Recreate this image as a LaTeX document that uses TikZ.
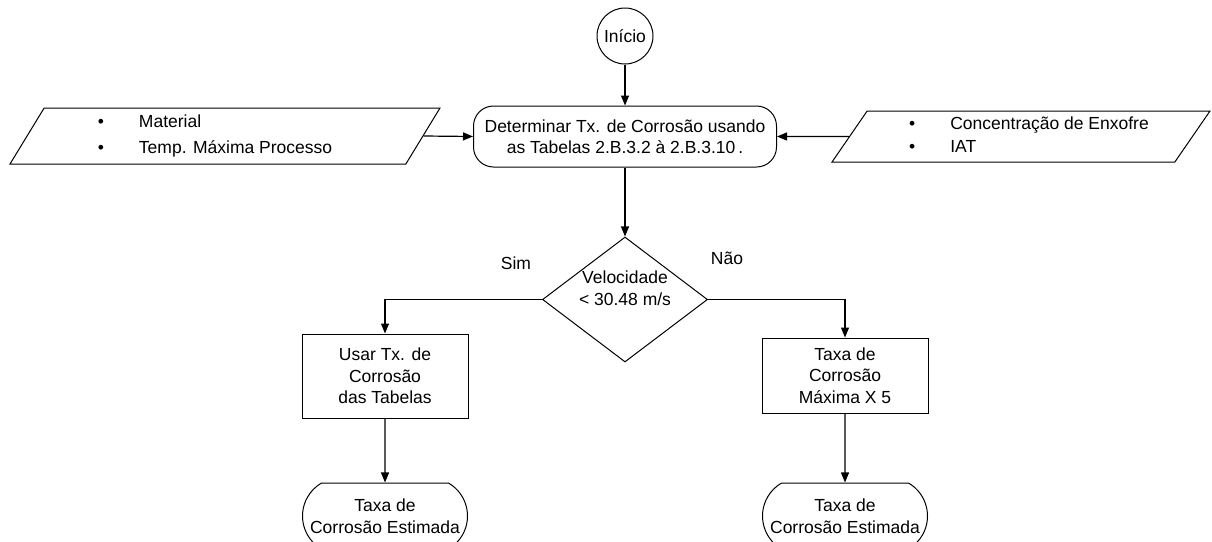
\documentclass[tikz,border=0pt]{standalone}
\usepackage{fontspec}
\setmainfont{Liberation Sans}
\usepackage{tikz}
\usetikzlibrary{arrows.meta, shapes.geometric, shapes.misc}

\begin{document}
\begin{tikzpicture}[x=1pt, y=-1pt, >={Triangle[length=10pt, width=8pt]},
    font=\fontsize{17.5}{21.5}\selectfont,
    inicio/.style={draw, line width=1pt, circle, minimum size=56pt, inner sep=0pt},
    processo/.style={draw, line width=1pt, rectangle, rounded corners=20pt, minimum width=303pt, minimum height=61pt, align=center, inner sep=0pt},
    entrada/.style={draw, line width=1pt, trapezium, trapezium left angle=54, trapezium right angle=126, trapezium stretches body, inner sep=0pt},
    decisao/.style={draw, line width=1pt, diamond, minimum width=165pt, minimum height=125pt, inner sep=0pt},
    caixa/.style={draw, line width=1pt, rectangle, minimum width=166pt, align=center, inner sep=0pt},
    fim/.style={draw, line width=1pt, rounded rectangle, rounded rectangle arc length=120, minimum width=165pt, minimum height=66pt, align=center, inner sep=0pt},
    seta/.style={->, line width=1.2pt}]
    \useasboundingbox (0,0) rectangle (1212,541);
    \clip (0,0) rectangle (1212,541);

    \node[inicio] (ini) at (625,36) {Início};
    \node[processo] (proc) at (625,136.5) {Determinar Tx. de Corrosão usando\\as Tabelas 2.B.3.2 à 2.B.3.10\,.};
    \node[entrada, minimum width=430pt, minimum height=56pt] (matL) at (225,136)
        {\begin{tabular}{@{}c@{\hspace{35pt}}l@{}}\textbullet & Material\\[4pt] \textbullet & Temp. Máxima Processo\end{tabular}\hspace*{20pt}};
    \node[entrada, trapezium left angle=52, trapezium right angle=128, minimum width=378pt, minimum height=51pt] (matR) at (1021,136.5)
        {\hspace*{16pt}\begin{tabular}{@{}c@{\hspace{35pt}}l@{}}\textbullet & Concentração de Enxofre\\[2pt] \textbullet & IAT\end{tabular}};
    \node[decisao] (vel) at (625,299.5)
        {\smash{\raisebox{5pt}{\begin{tabular}{@{}c@{}}Velocidade\\< 30.48 m/s\end{tabular}}}};
    \node (sim) at (516,263) {Sim};
    \node (nao) at (727,258) {Não};
    \node[caixa, minimum height=84pt] (usar) at (385,376) {Usar Tx. de\\Corrosão\\das Tabelas};
    \node[caixa, minimum height=75pt] (taxa) at (845,375.5) {Taxa de\\Corrosão\\Máxima X 5};
    \node[fim] (estL) at (385,516) {Taxa de\\Corrosão Estimada};
    \node[fim] (estR) at (845,516) {Taxa de\\Corrosão Estimada};

    \draw[seta] (ini) -- (proc);
    \draw[seta] (matL.east) -- (proc.west);
    \draw[seta] (matR.west) -- (proc.east);
    \draw[seta] (proc) -- (vel);
    \draw[seta] (vel.west) -| (usar.north);
    \draw[seta] (vel.east) -| (taxa.north);
    \draw[seta] (usar) -- (estL);
    \draw[seta] (taxa) -- (estR);
\end{tikzpicture}
\end{document}
